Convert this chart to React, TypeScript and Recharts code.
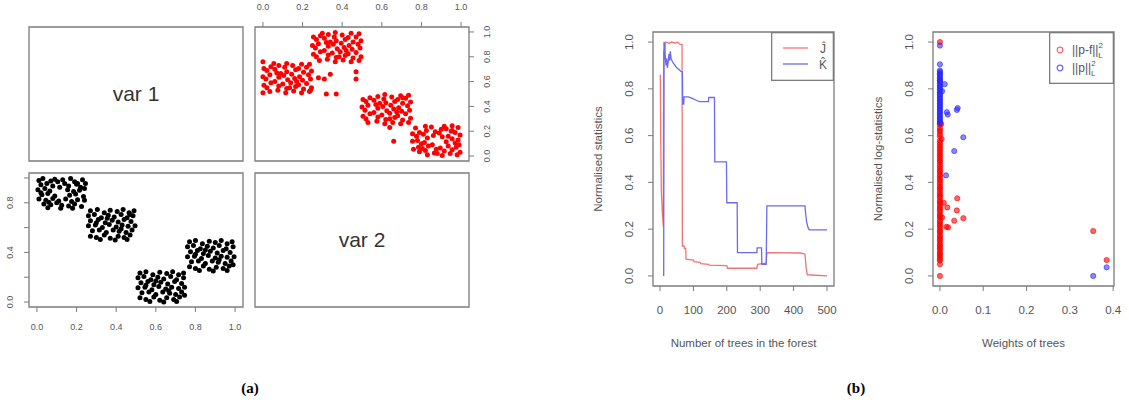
import React from 'react';
import {
  ScatterChart,
  Scatter,
  LineChart,
  Line,
  XAxis,
  YAxis,
  ReferenceArea,
  Legend,
} from 'recharts';

const FONT = '"Liberation Sans", Arial, Helvetica, sans-serif';
const FRAME = '#7c7c7c';
const INK = '#555555';

// (a) pairs plot, each point is [var1, var2]
const clusterA: [number, number][] = [
  [0.01, 0.98], [0.03, 0.995], [0.07, 0.975], [0.09, 0.99], [0.13, 0.985], [0.17, 0.995], [0.19, 0.97], [0.23, 0.985],
  [0.02, 0.945], [0.05, 0.955], [0.08, 0.935], [0.14, 0.955], [0.16, 0.935], [0.2, 0.95], [0.22, 0.925], [0.245, 0.955],
  [0.005, 0.905], [0.04, 0.915], [0.065, 0.895], [0.155, 0.905], [0.185, 0.89], [0.215, 0.9], [0.24, 0.915],
  [0.025, 0.865], [0.055, 0.875], [0.165, 0.86], [0.195, 0.87], [0.235, 0.85], [0.09, 0.855], [0.02, 0.88],
  [0.01, 0.83], [0.045, 0.82], [0.08, 0.835], [0.11, 0.815], [0.145, 0.83], [0.175, 0.81], [0.205, 0.825], [0.24, 0.82],
  [0.035, 0.79], [0.07, 0.785], [0.1, 0.8], [0.125, 0.78], [0.16, 0.775], [0.19, 0.79], [0.225, 0.77],
  [0.055, 0.76], [0.12, 0.755], [0.18, 0.755], [0.115, 0.925], [0.205, 0.955], [0.105, 0.97], [0.06, 0.805],
];
const clusterB: [number, number][] = [
  [0.27, 0.735], [0.305, 0.745], [0.34, 0.72], [0.37, 0.74], [0.405, 0.73], [0.435, 0.745], [0.465, 0.72], [0.49, 0.735],
  [0.26, 0.695], [0.29, 0.705], [0.325, 0.68], [0.36, 0.7], [0.39, 0.685], [0.425, 0.705], [0.455, 0.68], [0.485, 0.695],
  [0.27, 0.655], [0.31, 0.665], [0.345, 0.64], [0.38, 0.66], [0.41, 0.645], [0.44, 0.665], [0.475, 0.65],
  [0.26, 0.615], [0.295, 0.62], [0.33, 0.6], [0.365, 0.625], [0.4, 0.605], [0.43, 0.62], [0.46, 0.61], [0.495, 0.615],
  [0.28, 0.575], [0.315, 0.58], [0.35, 0.56], [0.385, 0.58], [0.415, 0.57], [0.45, 0.56], [0.48, 0.58],
  [0.27, 0.53], [0.3, 0.52], [0.34, 0.54], [0.37, 0.515], [0.41, 0.53], [0.44, 0.52], [0.47, 0.54],
  [0.32, 0.505], [0.395, 0.5], [0.455, 0.505], [0.355, 0.675], [0.425, 0.59], [0.3, 0.64], [0.47, 0.705],
];
const clusterC: [number, number][] = [
  [0.52, 0.235], [0.55, 0.245], [0.585, 0.22], [0.62, 0.24], [0.655, 0.23], [0.685, 0.245], [0.715, 0.22], [0.74, 0.235],
  [0.51, 0.195], [0.54, 0.205], [0.575, 0.18], [0.61, 0.2], [0.64, 0.185], [0.675, 0.205], [0.705, 0.18], [0.74, 0.195],
  [0.525, 0.155], [0.56, 0.165], [0.59, 0.14], [0.625, 0.16], [0.66, 0.145], [0.695, 0.165], [0.73, 0.15],
  [0.51, 0.115], [0.545, 0.12], [0.58, 0.1], [0.615, 0.125], [0.65, 0.105], [0.68, 0.12], [0.715, 0.11], [0.745, 0.12],
  [0.53, 0.075], [0.565, 0.08], [0.6, 0.06], [0.635, 0.08], [0.67, 0.07], [0.7, 0.06], [0.73, 0.08],
  [0.52, 0.035], [0.55, 0.02], [0.59, 0.04], [0.62, 0.015], [0.655, 0.035], [0.69, 0.02], [0.72, 0.04],
  [0.57, 0.005], [0.64, 0.0], [0.705, 0.005], [0.6, 0.17], [0.665, 0.09], [0.55, 0.135], [0.745, 0.055],
];
const clusterD: [number, number][] = [
  [0.77, 0.485], [0.8, 0.495], [0.835, 0.47], [0.87, 0.49], [0.9, 0.48], [0.93, 0.495], [0.96, 0.47], [0.985, 0.485],
  [0.76, 0.445], [0.79, 0.455], [0.825, 0.43], [0.86, 0.45], [0.89, 0.435], [0.92, 0.455], [0.955, 0.43], [0.99, 0.445],
  [0.775, 0.405], [0.81, 0.415], [0.84, 0.39], [0.875, 0.41], [0.91, 0.395], [0.94, 0.415], [0.975, 0.4],
  [0.76, 0.365], [0.795, 0.37], [0.83, 0.35], [0.865, 0.375], [0.9, 0.355], [0.93, 0.37], [0.96, 0.36], [0.995, 0.365],
  [0.78, 0.325], [0.815, 0.33], [0.85, 0.31], [0.885, 0.33], [0.915, 0.32], [0.95, 0.31], [0.98, 0.33],
  [0.77, 0.285], [0.8, 0.27], [0.84, 0.29], [0.87, 0.265], [0.905, 0.28], [0.94, 0.27], [0.97, 0.29],
  [0.82, 0.255], [0.89, 0.25], [0.96, 0.255], [0.85, 0.42], [0.92, 0.34], [0.8, 0.385], [0.99, 0.3],
];
// stray draws that only appear in the upper panel
const upperExtra: [number, number][] = [
  [0.76, 0.0], [0.51, 0.0], [0.63, 0.28], [0.62, 0.31], [0.66, 0.34], [0.5, 0.32],
  [0.5, 0.37], [0.68, 0.47], [0.62, 0.47], [0.23, 0.64], [0.12, 0.66], [0.53, 0.24],
];
const pairTicks = [0, 0.2, 0.4, 0.6, 0.8, 1];
const pairLeftLabels = [0, 0.4, 0.8];

// (b) left: normalised statistics vs forest size
const jTrees = [1, 2, 4, 7, 10, 11, 14, 16, 28, 35, 45, 52, 60, 66, 67, 72, 73, 77, 78, 100, 102, 120, 122, 145, 147, 200, 202, 290, 292, 318, 320, 420, 434, 438, 441, 500];
const jValues = [0.86, 0.6, 0.36, 0.27, 0.21, 0.96, 0.965, 1.0, 0.995, 1.0, 0.995, 1.0, 0.99, 0.99, 0.128, 0.128, 0.118, 0.118, 0.072, 0.068, 0.061, 0.058, 0.053, 0.05, 0.046, 0.044, 0.033, 0.033, 0.05, 0.055, 0.1, 0.098, 0.094, 0.03, 0.005, 0.0];
const kTrees = [11, 12, 14, 16, 18, 20, 22, 24, 27, 29, 31, 33, 36, 40, 45, 50, 55, 62, 67, 68, 71, 72, 85, 95, 110, 118, 145, 146, 163, 164, 199, 200, 231, 232, 290, 291, 304, 305, 318, 320, 434, 436, 439, 443, 447, 500];
const kValues = [0.0, 1.0, 0.99, 0.93, 0.9, 0.93, 0.89, 0.91, 0.95, 0.92, 0.96, 0.93, 0.92, 0.91, 0.9, 0.89, 0.885, 0.875, 0.873, 0.735, 0.735, 0.766, 0.766, 0.76, 0.75, 0.745, 0.745, 0.763, 0.763, 0.488, 0.488, 0.313, 0.313, 0.1, 0.1, 0.12, 0.12, 0.05, 0.05, 0.3, 0.3, 0.268, 0.232, 0.208, 0.197, 0.197];
const treeTicks = [0, 100, 200, 300, 400, 500];
const statTicks = [0, 0.2, 0.4, 0.6, 0.8, 1];
const lineKeyOrder = ['Ĵ', 'K̂'];

// (b) right: log-statistics vs tree weights
const pfAtZero = [
  1.0, 0.0, 0.05, 0.066, 0.071, 0.079, 0.088, 0.094, 0.101, 0.112, 0.118, 0.127, 0.133, 0.141, 0.152, 0.158,
  0.166, 0.173, 0.184, 0.191, 0.197, 0.208, 0.216, 0.223, 0.232, 0.24, 0.251, 0.257, 0.264, 0.275, 0.283, 0.29,
  0.299, 0.308, 0.316, 0.322, 0.334, 0.341, 0.349, 0.357, 0.368, 0.375, 0.382, 0.391, 0.4, 0.409, 0.417, 0.426,
  0.433, 0.444, 0.45, 0.459, 0.468, 0.476, 0.487, 0.493, 0.502, 0.511, 0.518, 0.527, 0.536, 0.544, 0.553, 0.561,
  0.57, 0.579, 0.596, 0.605, 0.617, 0.624, 0.633, 0.647, 0.658, 0.835,
];
const pfWeighted: [number, number][] = [
  [0.004, 0.585], [0.003, 0.65], [0.005, 0.25], [0.009, 0.313], [0.017, 0.293], [0.04, 0.332], [0.039, 0.28],
  [0.033, 0.236], [0.054, 0.247], [0.015, 0.21], [0.019, 0.208], [0.354, 0.192], [0.385, 0.068],
];
const pAtZero = [
  0.985, 0.905, 0.878, 0.872, 0.866, 0.861, 0.855, 0.848, 0.842, 0.836, 0.829, 0.823, 0.815, 0.81, 0.803, 0.797,
  0.79, 0.784, 0.776, 0.771, 0.764, 0.757, 0.751, 0.744, 0.738, 0.731, 0.725, 0.718, 0.712, 0.705, 0.699, 0.692,
  0.686, 0.679, 0.672, 0.666, 0.659, 0.652,
];
const pWeighted: [number, number][] = [
  [0.011, 0.82], [0.005, 0.79], [0.016, 0.7], [0.018, 0.69], [0.039, 0.71], [0.041, 0.718], [0.054, 0.593],
  [0.033, 0.534], [0.014, 0.43], [0.354, 0.0], [0.385, 0.037],
];
const weightTicks = [0, 0.1, 0.2, 0.3, 0.4];
const pointKeyOrder = ['||p-f||', '||p||'];

const PAIR_DOMAIN = [-0.04, 1.04];
const STAT_DOMAIN = [-0.043, 1.043];
const TREE_DOMAIN = [-21, 521];
const WEIGHT_DOMAIN = [-0.016, 0.402];

const pairPoints = [...clusterA, ...clusterB, ...clusterC, ...clusterD];
const lowerData = pairPoints.map(([v1, v2]) => ({ x: v1, y: v2 }));
const upperData = [...pairPoints, ...upperExtra].map(([v1, v2]) => ({ x: v2, y: v1 }));

const jData = jTrees.map((t, i) => ({ trees: t, value: jValues[i] }));
const kData = kTrees.map((t, i) => ({ trees: t, value: kValues[i] }));

const pfData = [...pfAtZero.map((s) => ({ w: 0, s })), ...pfWeighted.map(([w, s]) => ({ w, s }))];
const pData = [...pAtZero.map((s) => ({ w: 0, s })), ...pWeighted.map(([w, s]) => ({ w, s }))];

const f1 = (v: number) => v.toFixed(1);
const f0 = (v: number) => String(v);

// horizontal tick text, dy measured from the tick end
const hTick = (dy: number, size: number, fmt: (v: number) => string) => (p: any) => (
  <text x={p.x} y={p.y + dy} textAnchor="middle" fontSize={size} fontFamily={FONT} fill={INK}>
    {fmt(p.payload.value)}
  </text>
);

// R-style vertical tick text (reads bottom to top)
const vTick = (dx: number, size: number, fmt: (v: number) => string, only?: number[]) => (p: any) => {
  const v = p.payload.value;
  if (only && !only.includes(v)) return <g />;
  const cx = p.x + dx;
  return (
    <text x={cx} y={p.y} dy="0.35em" transform={`rotate(-90 ${cx} ${p.y})`} textAnchor="middle"
      fontSize={size} fontFamily={FONT} fill={INK}>
      {fmt(v)}
    </text>
  );
};

const xTitle = (text: string, dy: number) => (props: any) => {
  const vb = props.viewBox;
  return (
    <text x={vb.x + vb.width / 2} y={vb.y + dy} textAnchor="middle" fontSize={11.5} fontFamily={FONT} fill={INK}>
      {text}
    </text>
  );
};

const yTitle = (text: string, dx: number) => (props: any) => {
  const vb = props.viewBox;
  const cx = vb.x + dx;
  const cy = vb.y + vb.height / 2;
  return (
    <text x={cx} y={cy} dy="0.35em" transform={`rotate(-90 ${cx} ${cy})`} textAnchor="middle"
      fontSize={11.5} fontFamily={FONT} fill={INK}>
      {text}
    </text>
  );
};

const dot = (r: number, fill: string, stroke = 'none') => (p: any) => (
  <circle cx={p.cx} cy={p.cy} r={r} fill={fill} stroke={stroke} strokeWidth={1} />
);

function frame(xd: number[], yd: number[], label?: string) {
  return (
    <ReferenceArea
      x1={xd[0]} x2={xd[1]} y1={yd[0]} y2={yd[1]}
      fill="none" stroke={FRAME} strokeWidth={1.3} ifOverflow="visible"
      label={label ? { value: label, position: 'center', fontSize: 21, fill: '#333', fontFamily: FONT } : undefined}
    />
  );
}

const tickLine = { stroke: FRAME, strokeWidth: 1 };

const ordered = (payload: any[] | undefined, order: string[]) =>
  [...(payload ?? [])].sort((a, b) => order.indexOf(a.value) - order.indexOf(b.value));

function LineKey({ payload }: any) {
  return (
    <svg width={63} height={49} style={{ display: 'block' }}>
      <rect x={0.65} y={0.65} width={61.7} height={47.7} fill="#fff" stroke={FRAME} strokeWidth={1.3} />
      {ordered(payload, lineKeyOrder).map((item: any, i: number) => (
        <g key={item.value}>
          <line x1={12} x2={37} y1={16 + 16 * i} y2={16 + 16 * i} stroke={item.color} strokeWidth={1.3} />
          <text x={52} y={21 + 16 * i} textAnchor="middle" fontSize={12} fontFamily={FONT} fill={INK}>
            {item.value}
          </text>
        </g>
      ))}
    </svg>
  );
}

function PointKey({ payload }: any) {
  return (
    <svg width={65} height={52} style={{ display: 'block' }}>
      <rect x={0.65} y={0.65} width={63.7} height={50.7} fill="#fff" stroke={FRAME} strokeWidth={1.3} />
      {ordered(payload, pointKeyOrder).map((item: any, i: number) => (
        <g key={item.value}>
          <circle cx={11} cy={18 + 18 * i} r={2.8} fill="none" stroke={item.color} strokeOpacity={0.6} strokeWidth={1.2} />
          <text x={23} y={22 + 18 * i} fontSize={12} fontFamily={FONT} fill={INK}>
            {item.value}
            <tspan dy={-6} fontSize={8}>2</tspan>
            <tspan dx={-4.6} dy={10} fontSize={8}>L</tspan>
          </text>
        </g>
      ))}
    </svg>
  );
}

function DiagonalPanel({ name }: { name: string }) {
  return (
    <ScatterChart width={216} height={136} margin={{ top: 1, right: 1, bottom: 1, left: 1 }}>
      <XAxis type="number" dataKey="x" domain={PAIR_DOMAIN} allowDataOverflow hide />
      <YAxis type="number" dataKey="y" domain={PAIR_DOMAIN} allowDataOverflow hide />
      <Scatter data={[]} isAnimationActive={false} />
      {frame(PAIR_DOMAIN, PAIR_DOMAIN, name)}
    </ScatterChart>
  );
}

const at = (left: number, top: number): React.CSSProperties => ({ position: 'absolute', left, top });

export default function App() {
  return (
    <div style={{ position: 'absolute', left: 0, top: 0, width: 1129, height: 408, background: '#fff' }}>
      {/* (a) diagonal: var 1 */}
      <div style={at(28, 26)}>
        <DiagonalPanel name="var 1" />
      </div>

      {/* (a) upper panel: var2 against var1 */}
      <div style={at(254, 0)}>
        <ScatterChart width={250} height={162} margin={{ top: 0, right: 0, bottom: 1, left: 1 }}>
          <XAxis type="number" dataKey="x" orientation="top" height={27} domain={PAIR_DOMAIN} ticks={pairTicks}
            interval={0} allowDataOverflow axisLine={false} tickLine={tickLine} tickSize={5} tickMargin={0}
            tick={hTick(-11.8, 9, f1)} />
          <YAxis type="number" dataKey="y" orientation="right" width={35} domain={PAIR_DOMAIN} ticks={pairTicks}
            interval={0} allowDataOverflow axisLine={false} tickLine={tickLine} tickSize={5} tickMargin={0}
            tick={vTick(13, 9, f1)} />
          <Scatter data={upperData} fill="#ff0000" shape={dot(2.5, '#ff0000')} isAnimationActive={false} />
          {frame(PAIR_DOMAIN, PAIR_DOMAIN)}
        </ScatterChart>
      </div>

      {/* (a) lower panel: var1 against var2 */}
      <div style={at(0, 172)}>
        <ScatterChart width={244} height={170} margin={{ top: 1, right: 1, bottom: 0, left: 0 }}>
          <XAxis type="number" dataKey="x" height={35} domain={PAIR_DOMAIN} ticks={pairTicks}
            interval={0} allowDataOverflow axisLine={false} tickLine={tickLine} tickSize={5} tickMargin={0}
            tick={hTick(18, 9, f1)} />
          <YAxis type="number" dataKey="y" width={29} domain={PAIR_DOMAIN} ticks={pairTicks}
            interval={0} allowDataOverflow axisLine={false} tickLine={tickLine} tickSize={5} tickMargin={0}
            tick={vTick(-14, 9, f1, pairLeftLabels)} />
          <Scatter data={lowerData} fill="#000" shape={dot(2.5, '#000')} isAnimationActive={false} />
          {frame(PAIR_DOMAIN, PAIR_DOMAIN)}
        </ScatterChart>
      </div>

      {/* (a) diagonal: var 2 */}
      <div style={at(254, 172)}>
        <DiagonalPanel name="var 2" />
      </div>

      {/* (b) statistics vs number of trees */}
      <div style={at(570, 22)}>
        <LineChart width={280} height={338} margin={{ top: 10, right: 16, bottom: 0, left: 0 }}>
          <XAxis type="number" dataKey="trees" height={74} domain={TREE_DOMAIN} ticks={treeTicks}
            interval={0} allowDataOverflow axisLine={false} tickLine={tickLine} tickSize={5} tickMargin={0}
            tick={hTick(23, 11.5, f0)} label={xTitle('Number of trees in the forest', 61)} />
          <YAxis type="number" width={83} domain={STAT_DOMAIN} ticks={statTicks}
            interval={0} allowDataOverflow axisLine={false} tickLine={tickLine} tickSize={5} tickMargin={0}
            tick={vTick(-19, 11.5, f1)} label={yTitle('Normalised statistics', 28)} />
          <Line data={jData} dataKey="value" name="Ĵ" type="linear" stroke="#f27373" strokeWidth={1.3}
            dot={false} activeDot={false} isAnimationActive={false} />
          <Line data={kData} dataKey="value" name="K̂" type="linear" stroke="#6b6bf2" strokeWidth={1.3}
            dot={false} activeDot={false} isAnimationActive={false} />
          {frame(TREE_DOMAIN, STAT_DOMAIN)}
          <Legend layout="vertical" align="center" verticalAlign="middle"
            wrapperStyle={{ left: 201, top: 10, width: 63, height: 49 }}
            content={(p: any) => <LineKey payload={p.payload} />} />
        </LineChart>
      </div>

      {/* (b) log-statistics vs tree weights */}
      <div style={at(850, 22)}>
        <ScatterChart width={279} height={338} margin={{ top: 10, right: 15, bottom: 0, left: 0 }}>
          <XAxis type="number" dataKey="w" height={74} domain={WEIGHT_DOMAIN} ticks={weightTicks}
            interval={0} allowDataOverflow axisLine={false} tickLine={tickLine} tickSize={5} tickMargin={0}
            tick={hTick(23, 11.5, f1)} label={xTitle('Weights of trees', 61)} />
          <YAxis type="number" dataKey="s" width={83} domain={STAT_DOMAIN} ticks={statTicks}
            interval={0} allowDataOverflow axisLine={false} tickLine={tickLine} tickSize={5} tickMargin={0}
            tick={vTick(-19, 11.5, f1)} label={yTitle('Normalised log-statistics', 28)} />
          <Scatter data={pfData} name="||p-f||" fill="#ff0000" isAnimationActive={false}
            shape={dot(2.6, 'rgba(255,0,0,0.6)', 'rgba(255,0,0,0.6)')} />
          <Scatter data={pData} name="||p||" fill="#0000ff" isAnimationActive={false}
            shape={dot(2.6, 'rgba(40,40,255,0.55)', 'rgba(40,40,255,0.6)')} />
          {frame(WEIGHT_DOMAIN, STAT_DOMAIN)}
          <Legend layout="vertical" align="center" verticalAlign="middle"
            wrapperStyle={{ left: 199, top: 10, width: 65, height: 52 }}
            content={(p: any) => <PointKey payload={p.payload} />} />
        </ScatterChart>
      </div>

      <div style={{ ...at(230, 380), width: 40, textAlign: 'center', font: 'bold 15px/16px "Liberation Serif", serif' }}>(a)</div>
      <div style={{ ...at(836, 380), width: 40, textAlign: 'center', font: 'bold 15px/16px "Liberation Serif", serif' }}>(b)</div>
    </div>
  );
}
